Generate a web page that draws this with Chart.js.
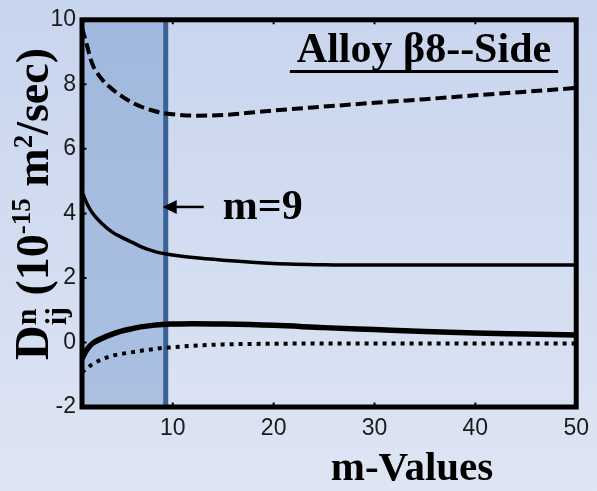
<!DOCTYPE html>
<html>
<head>
<meta charset="utf-8">
<script src="https://cdn.jsdelivr.net/npm/chart.js@4"></script>
<style>
  html, body { margin: 0; padding: 0; }
  body {
    width: 597px; height: 491px; overflow: hidden;
    background: linear-gradient(to bottom, #c8d5ee 0%, #d3ddf1 50%, #dee5f3 100%);
  }
  #wrap { position: relative; width: 597px; height: 491px; }
</style>
</head>
<body>
<div id="wrap"><canvas id="chart" width="597" height="491"></canvas></div>
<script>
// data
const mValues = [1, 1.5, 2, 3, 4, 5, 6, 7, 8, 9, 10, 12, 15, 20, 25, 30, 35, 40, 45, 50];
const dashedSeries = [9.75, 9.2, 8.65, 8.15, 7.85, 7.62, 7.43, 7.29, 7.19, 7.11, 7.07, 7.03, 7.05, 7.19, 7.31, 7.43, 7.54, 7.66, 7.77, 7.89];
const upperSolid = [4.67, 4.3, 4.03, 3.68, 3.42, 3.25, 3.1, 2.95, 2.84, 2.76, 2.71, 2.63, 2.55, 2.45, 2.41, 2.4, 2.4, 2.4, 2.4, 2.4];
const lowerSolid = [-0.5, -0.22, -0.04, 0.13, 0.26, 0.36, 0.43, 0.49, 0.53, 0.56, 0.57, 0.58, 0.57, 0.53, 0.46, 0.4, 0.34, 0.29, 0.26, 0.23];
const dottedSeries = [-0.93, -0.8, -0.68, -0.52, -0.41, -0.35, -0.3, -0.25, -0.21, -0.17, -0.15, -0.1, -0.06, -0.04, -0.03, -0.03, -0.03, -0.03, -0.03, -0.03];

const xTicks = [10, 20, 30, 40, 50];
const yTicks = [-2, 0, 2, 4, 6, 8, 10];

const shadeStart = 1;
const shadeEnd = 9.3;
const arrowLevel = 4.2;
const chartTitle = "Alloy \u03b28--Side";
const arrowLabel = "m=9";
const xTitle = "m-Values";

const toPoints = arr => arr.map((v, i) => ({ x: mValues[i], y: v }));

const serif = "'Liberation Serif', 'Times New Roman', serif";
const sans = "'Liberation Sans', Arial, sans-serif";

// shaded band + vertical marker behind the curves
const bandPlugin = {
  id: "band",
  beforeDatasetsDraw(chart) {
    const { ctx, chartArea, scales } = chart;
    const x0 = scales.x.getPixelForValue(shadeStart);
    const x1 = scales.x.getPixelForValue(shadeEnd);
    ctx.save();
    ctx.fillStyle = "rgba(112, 150, 204, 0.45)";
    ctx.fillRect(x0, chartArea.top, x1 - x0, chartArea.bottom - chartArea.top);
    ctx.strokeStyle = "#3a6192";
    ctx.lineWidth = 5;
    ctx.beginPath();
    ctx.moveTo(x1, chartArea.top);
    ctx.lineTo(x1, chartArea.bottom);
    ctx.stroke();
    ctx.restore();
  }
};

// frame, titles and the arrow note
const decorPlugin = {
  id: "decor",
  afterDraw(chart) {
    const { ctx, chartArea, scales } = chart;
    const { left, right, top, bottom } = chartArea;
    ctx.save();

    // little inward tick marks
    ctx.strokeStyle = "#000";
    ctx.lineWidth = 2;
    ctx.beginPath();
    xTicks.forEach(v => {
      const px = scales.x.getPixelForValue(v);
      ctx.moveTo(px, bottom); ctx.lineTo(px, bottom - 4.5);
      ctx.moveTo(px, top); ctx.lineTo(px, top + 4.5);
    });
    yTicks.forEach(v => {
      const py = scales.y.getPixelForValue(v);
      ctx.moveTo(left, py); ctx.lineTo(left + 4.5, py);
    });
    ctx.stroke();

    // thick frame
    ctx.lineWidth = 5;
    ctx.strokeRect(left, top, right - left, bottom - top);

    // underlined title
    ctx.fillStyle = "#000";
    ctx.font = "bold 42px " + serif;
    ctx.textBaseline = "alphabetic";
    ctx.textAlign = "left";
    const tw = ctx.measureText(chartTitle).width;
    const tx = 424 - tw / 2;
    ctx.fillText(chartTitle, tx, 62);
    ctx.fillRect(tx - 7, 70, tw + 14, 3);

    // arrow pointing at the marker line
    const ax = scales.x.getPixelForValue(shadeEnd) - 3;
    const ay = scales.y.getPixelForValue(arrowLevel);
    ctx.lineWidth = 2.5;
    ctx.beginPath();
    ctx.moveTo(ax + 10, ay);
    ctx.lineTo(ax + 41, ay);
    ctx.stroke();
    ctx.beginPath();
    ctx.moveTo(ax, ay);
    ctx.lineTo(ax + 14, ay - 7);
    ctx.lineTo(ax + 14, ay + 7);
    ctx.closePath();
    ctx.fill();
    ctx.font = "bold 42px " + serif;
    ctx.fillText(arrowLabel, ax + 60, ay + 12);

    // x axis title
    ctx.font = "bold 41px " + serif;
    ctx.textAlign = "center";
    ctx.fillText(xTitle, 412, 480);

    // y axis title with sub/superscripts
    const parts = [
      { t: "D", size: 48, dy: 0 },
      { stack: [{ t: "ij", size: 30, dy: 18 }, { t: "n", size: 30, dy: -12 }] },
      { t: " (10", size: 46, dy: 0 },
      { t: "-15", size: 27, dy: -18 },
      { t: " m", size: 46, dy: 0 },
      { t: "2", size: 27, dy: -16 },
      { t: "/sec)", size: 46, dy: 0 }
    ];
    const widthOf = p => {
      if (p.stack) return Math.max(...p.stack.map(widthOf));
      ctx.font = "bold " + p.size + "px " + serif;
      return ctx.measureText(p.t).width;
    };
    const total = parts.reduce((s, p) => s + widthOf(p), 0);
    ctx.translate(48, 204);
    ctx.rotate(-Math.PI / 2);
    ctx.textAlign = "left";
    let cx = -total / 2;
    parts.forEach(p => {
      const w = widthOf(p);
      const items = p.stack ? p.stack : [p];
      items.forEach(it => {
        ctx.font = "bold " + it.size + "px " + serif;
        ctx.fillText(it.t, cx, it.dy);
      });
      cx += w;
    });
    ctx.restore();
  }
};

const lineBase = { pointRadius: 0, borderColor: "#000", fill: false, tension: 0.4, cubicInterpolationMode: "monotone", borderCapStyle: "butt" };

new Chart(document.getElementById("chart"), {
  type: "line",
  data: {
    datasets: [
      Object.assign({ label: "dashed", data: toPoints(dashedSeries), borderWidth: 4, borderDash: [11, 5] }, lineBase),
      Object.assign({ label: "upper", data: toPoints(upperSolid), borderWidth: 3.5 }, lineBase),
      Object.assign({ label: "lower", data: toPoints(lowerSolid), borderWidth: 5.5 }, lineBase),
      Object.assign({ label: "dotted", data: toPoints(dottedSeries), borderWidth: 4, borderDash: [4, 5] }, lineBase)
    ]
  },
  options: {
    responsive: false,
    animation: false,
    devicePixelRatio: 1,
    layout: { padding: { left: 0, top: 15, right: 20, bottom: 0 } },
    plugins: { legend: { display: false }, tooltip: { enabled: false } },
    scales: {
      x: {
        type: "linear",
        min: 1, max: 50,
        grid: { display: false, drawTicks: false },
        border: { display: false },
        afterBuildTicks: s => { s.ticks = xTicks.map(v => ({ value: v })); },
        afterFit: s => { s.height = 84; },
        ticks: { color: "#1a1a1a", font: { family: sans, size: 23 }, padding: 8, maxRotation: 0 }
      },
      y: {
        type: "linear",
        min: -2, max: 10,
        grid: { display: false, drawTicks: false },
        border: { display: false },
        afterBuildTicks: s => { s.ticks = yTicks.map(v => ({ value: v })); },
        afterFit: s => { s.width = 82; },
        ticks: { color: "#1a1a1a", font: { family: sans, size: 23 }, padding: 6 }
      }
    }
  },
  plugins: [bandPlugin, decorPlugin]
});
</script>
</body>
</html>
